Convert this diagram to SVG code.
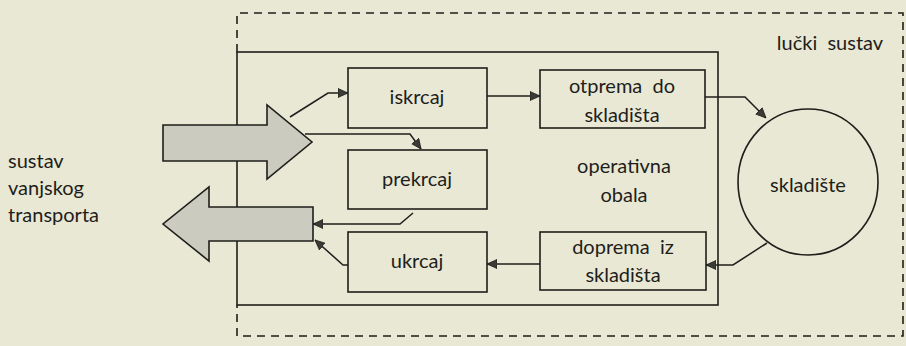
<svg xmlns="http://www.w3.org/2000/svg" width="906" height="346" viewBox="0 0 906 346">
<defs>
<style>
.t{font-family:Lato,"Open Sans","Liberation Sans",sans-serif;font-size:20px;fill:#1e1e1a;text-anchor:middle}
.box{fill:none;stroke:#1e1e1a;stroke-width:1.6}
.ln{fill:none;stroke:#1e1e1a;stroke-width:1.5}
.dash{fill:none;stroke:#1e1e1a;stroke-width:1.6;stroke-dasharray:8 6}
.big{fill:#cbcbbf;stroke:#1e1e1a;stroke-width:1.6;stroke-linejoin:miter}
</style>
<marker id="ah" viewBox="0 0 10 10" refX="10" refY="5" markerWidth="10" markerHeight="10" markerUnits="userSpaceOnUse" orient="auto">
<path d="M0,0.5 L10,5 L0,9.5 Z" fill="#3a3a36" stroke="#1e1e1a" stroke-width="0.8"/>
</marker>
</defs>
<rect width="906" height="346" fill="#e9e8d5"/>

<g id="lucki-sustav">
<polyline class="dash" points="237,52 237,13 903,13 903,336 237,336 237,305"/>
<text class="t" x="830" y="50" xml:space="preserve">lučki  sustav</text>
</g>

<g id="operativna-obala">
<rect class="box" x="237" y="52" width="481" height="253"/>
<text class="t" x="624" y="173">operativna</text>
<text class="t" x="624" y="202">obala</text>
</g>

<g id="vanjski-transport">
<text class="t" x="8" y="168" style="text-anchor:start">sustav</text>
<text class="t" x="8" y="195" style="text-anchor:start">vanjskog</text>
<text class="t" x="8" y="222" style="text-anchor:start">transporta</text>
</g>

<g id="ulaz">
<path class="big" d="M163,125 L267,125 L267,105 L312,142 L267,179 L267,161 L163,161 Z"/>
</g>
<g id="izlaz">
<path class="big" d="M313,207 L209,207 L209,187 L163,224 L209,261 L209,241 L313,241 Z"/>
</g>

<g id="iskrcaj">
<rect class="box" x="348" y="68" width="139" height="60"/>
<text class="t" x="417" y="104">iskrcaj</text>
</g>
<g id="prekrcaj">
<rect class="box" x="348" y="150" width="139" height="59"/>
<text class="t" x="417" y="186">prekrcaj</text>
</g>
<g id="ukrcaj">
<rect class="box" x="348" y="232" width="139" height="60"/>
<text class="t" x="417" y="268">ukrcaj</text>
</g>
<g id="otprema">
<rect class="box" x="540" y="70" width="165" height="58"/>
<text class="t" x="622" y="93" xml:space="preserve">otprema  do</text>
<text class="t" x="622" y="122">skladišta</text>
</g>
<g id="doprema">
<rect class="box" x="540" y="232" width="166" height="58"/>
<text class="t" x="623" y="254" xml:space="preserve">doprema  iz</text>
<text class="t" x="623" y="282">skladišta</text>
</g>
<g id="skladiste">
<ellipse class="box" cx="808" cy="182" rx="70" ry="73"/>
<text class="t" x="808" y="192">skladište</text>
</g>

<g id="connectors">
<polyline class="ln" marker-end="url(#ah)" points="290,117 328,93 348,93"/>
<polyline class="ln" marker-end="url(#ah)" points="305,134 410,134 421,149"/>
<line class="ln" marker-end="url(#ah)" x1="487" y1="96" x2="540" y2="96"/>
<polyline class="ln" marker-end="url(#ah)" points="705,97 745,97 766,118"/>
<polyline class="ln" marker-end="url(#ah)" points="767,243 733,265 706,265"/>
<line class="ln" marker-end="url(#ah)" x1="540" y1="264" x2="487" y2="264"/>
<polyline class="ln" marker-end="url(#ah)" points="413,213 400,224 313,224"/>
<polyline class="ln" marker-end="url(#ah)" points="348,265 343,265 315,240"/>
</g>
</svg>
